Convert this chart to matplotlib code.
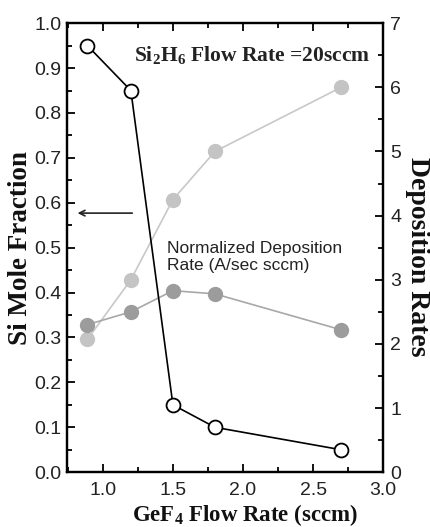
import matplotlib
matplotlib.use("Agg")
import matplotlib.pyplot as plt
from matplotlib.ticker import MultipleLocator, FormatStrFormatter

plt.rcParams['mathtext.fontset'] = 'custom'
plt.rcParams['mathtext.rm'] = 'Liberation Serif:bold'
plt.rcParams['mathtext.it'] = 'Liberation Serif:bold'
plt.rcParams['mathtext.bf'] = 'Liberation Serif:bold'

# Data
gef4_flow = [0.89, 1.2, 1.5, 1.8, 2.7]
si_mole_fraction = [0.95, 0.85, 0.15, 0.10, 0.05]
deposition_rate = [2.07, 3.0, 4.25, 5.0, 6.0]
normalized_rate = [2.3, 2.5, 2.83, 2.78, 2.22]

sans = 'Liberation Sans'
serif = 'Liberation Serif'

fig = plt.figure(figsize=(4.31, 5.27), dpi=100)
ax = fig.add_axes([0.155, 0.104, 0.734, 0.852])
ax2 = ax.twinx()

ax2.plot(gef4_flow, deposition_rate, '-', color='#c8c8c8', lw=1.2,
         marker='o', ms=10, mfc='#c4c4c4', mec='#c4c4c4', zorder=2)
ax2.plot(gef4_flow, normalized_rate, '-', color='#a8a8a8', lw=1.2,
         marker='o', ms=10, mfc='#9c9c9c', mec='#9c9c9c', zorder=2)
ax2.plot(gef4_flow, [v * 7 for v in si_mole_fraction], '-', color='black', lw=1.2,
         marker='o', ms=10, mfc='white', mec='black', mew=1.3, zorder=3)

ax.set_xlim(0.743, 3.0)
ax.set_ylim(0, 1.0)
ax2.set_ylim(0, 7)

ax.xaxis.set_major_locator(MultipleLocator(0.5))
ax.xaxis.set_minor_locator(MultipleLocator(0.25))
ax.xaxis.set_major_formatter(FormatStrFormatter('%.1f'))
ax.yaxis.set_major_locator(MultipleLocator(0.1))
ax.yaxis.set_minor_locator(MultipleLocator(0.05))
ax.yaxis.set_major_formatter(FormatStrFormatter('%.1f'))
ax2.yaxis.set_major_locator(MultipleLocator(1))
ax2.yaxis.set_minor_locator(MultipleLocator(0.5))

ax.tick_params(axis='both', which='both', direction='in', top=True, right=False,
               labelsize=14, width=1.3)
ax.tick_params(which='major', length=6)
ax.tick_params(which='minor', length=3.5)
ax.tick_params(axis='y', pad=4)
ax.tick_params(axis='x', pad=7)
ax2.tick_params(axis='y', which='both', direction='in', labelsize=14, width=1.3, pad=5)
ax2.tick_params(which='major', length=6)
ax2.tick_params(which='minor', length=3.5)
for lbl in ax.get_xticklabels() + ax.get_yticklabels() + ax2.get_yticklabels():
    lbl.set_fontfamily(sans)
    lbl.set_color('#222222')

for a in (ax, ax2):
    for s in a.spines.values():
        s.set_linewidth(1.6)

ax.set_xlabel('GeF$_4$ Flow Rate (sccm)', fontfamily=serif, fontweight='bold',
              fontsize=16.5, color='#111111')
ax.xaxis.set_label_coords(0.563, -0.066)
ax.set_ylabel('Si Mole Fraction', fontfamily=serif, fontweight='bold',
              fontsize=19.5, color='#111111')
ax.yaxis.set_label_coords(-0.108, 0.5)
ax2.set_ylabel('Deposition Rates', fontfamily=serif, fontweight='bold',
               fontsize=20, rotation=-90, color='#111111', va='center')
ax2.yaxis.set_label_coords(1.108, 0.48)

ax.text(2.91, 0.929, 'Si$_2$H$_6$ Flow Rate =20sccm', fontfamily=serif,
        fontweight='bold', fontsize=15.5, ha='right', va='center', color='#222222')
ax.text(1.455, 0.479, 'Normalized Deposition\nRate (A/sec sccm)', fontfamily=sans,
        fontsize=12.5, ha='left', va='center', color='#222222', linespacing=1.2)
ax.annotate('', xy=(0.8, 0.577), xytext=(1.23, 0.577),
            arrowprops=dict(arrowstyle='->', color='#222222', lw=1.2))

fig.savefig('out.png', dpi=100)
